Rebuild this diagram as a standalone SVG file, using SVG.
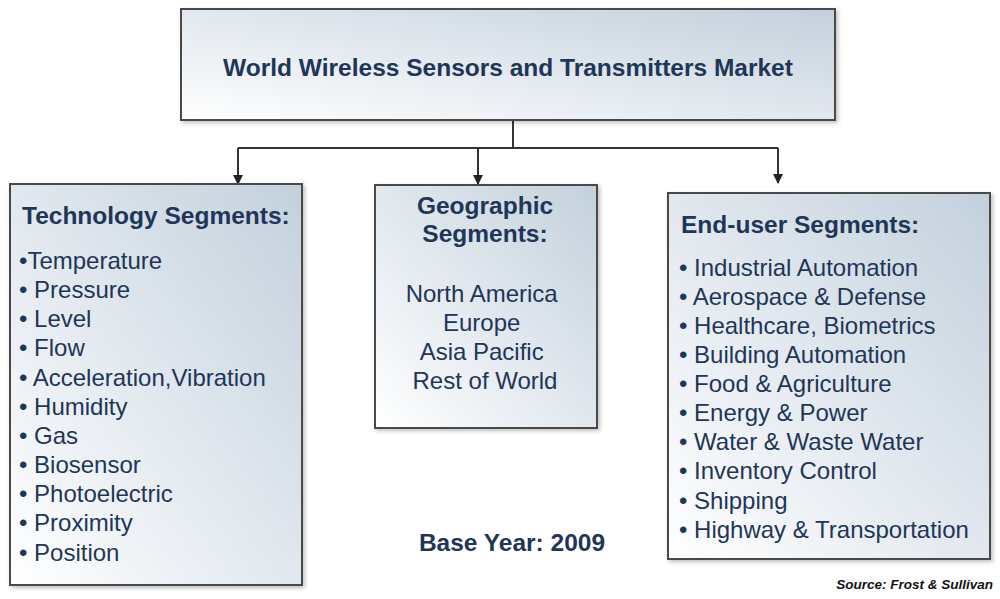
<svg xmlns="http://www.w3.org/2000/svg" width="1000" height="599" viewBox="0 0 1000 599">
<style>
.box{stroke:#4a4a4a;stroke-width:2;fill:url(#g)}
.t{font-family:"Liberation Sans",Arial,sans-serif;fill:#1f3658}
.h{font-weight:bold;font-size:24.5px}
.i{font-size:24px}
.conn{stroke:#333;stroke-width:2;fill:none}
</style>
<defs>
<linearGradient id="g" x1="0" y1="1" x2="1" y2="0">
<stop offset="0" stop-color="#ffffff"/>
<stop offset="0.45" stop-color="#e4eaf0"/>
<stop offset="1" stop-color="#c3d0dc"/>
</linearGradient>
<filter id="sh" x="-5%" y="-5%" width="110%" height="110%">
<feDropShadow dx="2" dy="2" stdDeviation="2" flood-color="#000" flood-opacity="0.25"/>
</filter>
<marker id="ar" markerWidth="10" markerHeight="10" refX="9" refY="5" orient="auto" markerUnits="userSpaceOnUse">
<path d="M0,0 L10,5 L0,10 Z" fill="#222"/>
</marker>
</defs>
<rect width="1000" height="599" fill="#fff"/>
<g id="connectors">
<path class="conn" d="M513,120 V148"/>
<path class="conn" d="M238,148 H778"/>
<path class="conn" d="M238,148 V184" marker-end="url(#ar)"/>
<path class="conn" d="M478,148 V184" marker-end="url(#ar)"/>
<path class="conn" d="M778,148 V183" marker-end="url(#ar)"/>
</g>
<g id="market">
<rect class="box" x="181" y="9" width="654" height="111" filter="url(#sh)"/>
<text class="t h" x="508" y="76" text-anchor="middle">World Wireless Sensors and Transmitters Market</text>
</g>
<g id="technology">
<rect class="box" x="10" y="184" width="292" height="401" filter="url(#sh)"/>
<text class="t h" x="22" y="224">Technology Segments:</text>
<text class="t i">
<tspan x="19" y="269">•Temperature</tspan>
<tspan x="19" y="298">• Pressure</tspan>
<tspan x="19" y="327">• Level</tspan>
<tspan x="19" y="356">• Flow</tspan>
<tspan x="19" y="386">• Acceleration,Vibration</tspan>
<tspan x="19" y="415">• Humidity</tspan>
<tspan x="19" y="444">• Gas</tspan>
<tspan x="19" y="473">• Biosensor</tspan>
<tspan x="19" y="502">• Photoelectric</tspan>
<tspan x="19" y="531">• Proximity</tspan>
<tspan x="19" y="561">• Position</tspan>
</text>
</g>
<g id="geographic">
<rect class="box" x="375" y="185" width="222" height="243" filter="url(#sh)"/>
<text class="t h" x="485" y="214" text-anchor="middle">Geographic</text>
<text class="t h" x="485" y="242" text-anchor="middle">Segments:</text>
<text class="t i" text-anchor="middle">
<tspan x="485" y="302">North America</tspan>
<tspan x="485" y="331">Europe</tspan>
<tspan x="485" y="360">Asia Pacific</tspan>
<tspan x="485" y="389">Rest of World</tspan>
</text>
</g>
<g id="enduser">
<rect class="box" x="668" y="193" width="322" height="366" filter="url(#sh)"/>
<text class="t h" x="681" y="233">End-user Segments:</text>
<text class="t i">
<tspan x="679" y="276">• Industrial Automation</tspan>
<tspan x="679" y="305">• Aerospace &amp; Defense</tspan>
<tspan x="679" y="334">• Healthcare, Biometrics</tspan>
<tspan x="679" y="363">• Building Automation</tspan>
<tspan x="679" y="392">• Food &amp; Agriculture</tspan>
<tspan x="679" y="421">• Energy &amp; Power</tspan>
<tspan x="679" y="450">• Water &amp; Waste Water</tspan>
<tspan x="679" y="479">• Inventory Control</tspan>
<tspan x="679" y="509">• Shipping</tspan>
<tspan x="679" y="538">• Highway &amp; Transportation</tspan>
</text>
</g>
<g id="baseyear">
<text class="t h" x="512" y="551" text-anchor="middle">Base Year: 2009</text>
</g>
<g id="source">
<text x="993" y="589" text-anchor="end" font-family="Liberation Sans,Arial,sans-serif" font-size="13.5" font-weight="bold" font-style="italic" fill="#111">Source: Frost &amp; Sullivan</text>
</g>
</svg>
